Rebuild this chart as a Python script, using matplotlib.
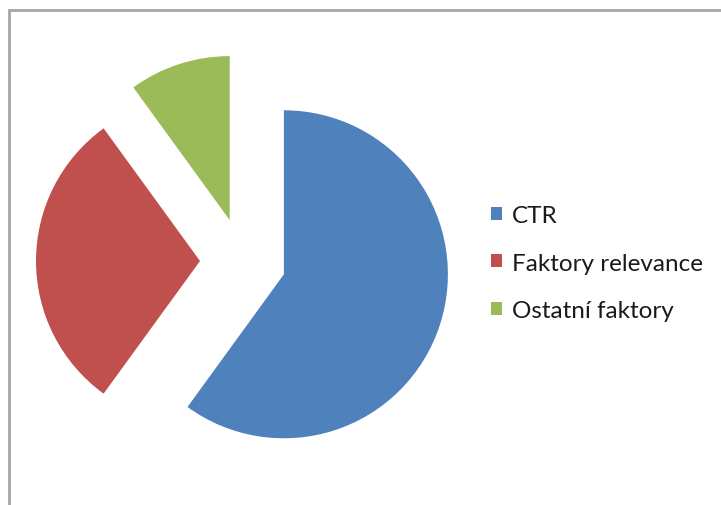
import matplotlib.pyplot as plt
from matplotlib.patches import Rectangle

labels = ['CTR', 'Faktory relevance', 'Ostatní faktory']
shares = [60, 30, 10]
colors = ['#4F81BD', '#C0504D', '#9BBB59']
explode = [43, 43, 43]  # offsets in data units (pixels here)

W, H = 721, 506
fig = plt.figure(figsize=(W / 100, H / 100), dpi=100)
fig.patch.set_facecolor('white')

# chart frame (gray border, runs off right/bottom edges)
fig.patches.append(Rectangle((8.5 / W, -0.1), 1.2, (H - 10.5) / H + 0.1,
                             transform=fig.transFigure, fill=False,
                             edgecolor='#a6a6a6', linewidth=2))

ax = fig.add_axes([0, 0, 1, 1])
wedges, _ = ax.pie(shares, colors=colors, explode=explode, startangle=90,
                   counterclock=False, radius=164, center=(243, H - 262),
                   wedgeprops=dict(linewidth=0))
ax.set_xlim(0, W)
ax.set_ylim(0, H)
ax.set_aspect('equal')
ax.axis('off')

leg = ax.legend(wedges, labels, loc='upper left',
                bbox_to_anchor=(469 / W, 1 - 184 / H), frameon=False,
                prop={'family': 'Lato', 'size': 17.5},
                handlelength=0.45, handleheight=0.45, handletextpad=0.4,
                labelspacing=1.1)
for t in leg.get_texts():
    t.set_color('#1a1a1a')

fig.savefig('out.png', dpi=100)
